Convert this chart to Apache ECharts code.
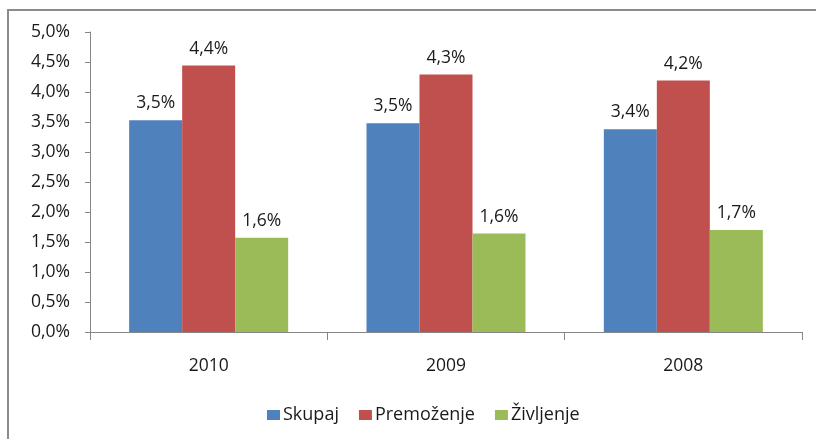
<!DOCTYPE html>
<html>
<head>
<meta charset="utf-8">
<script src="https://cdn.jsdelivr.net/npm/echarts@6/dist/echarts.min.js"></script>
<style>
  html, body { margin: 0; padding: 0; background: #fff; }
  #main { width: 816px; height: 439px; }
</style>
</head>
<body>
<div id="main"></div>
<script>
var years = ['2010', '2009', '2008'];
var skupaj = [3.53, 3.48, 3.38];
var premozenje = [4.44, 4.29, 4.19];
var zivljenje = [1.57, 1.64, 1.70];

var seriesNames = ['Skupaj', 'Premoženje', 'Življenje'];
var seriesColors = ['#4F81BD', '#C0504D', '#9BBB59'];

var myChart = echarts.init(document.getElementById('main'));

function pct(v, digits) {
    return v.toFixed(digits).replace('.', ',') + '%';
}

function makeSeries(name, data, color) {
    return {
        name: name,
        type: 'bar',
        data: data,
        barGap: '0%',
        barCategoryGap: '33%',
        itemStyle: { color: color },
        label: {
            show: true,
            position: 'top',
            distance: 8,
            color: '#1a1a1a',
            fontSize: 17.5,
            fontFamily: 'Open Sans',
            formatter: function(p) { return pct(p.value, 1); }
        }
    };
}

var option = {
    animation: false,
    textStyle: { fontFamily: 'Open Sans' },
    graphic: [{
        type: 'rect',
        shape: { x: 8, y: 10, width: 900, height: 500 },
        style: { fill: 'none', stroke: '#8c8c8c', lineWidth: 2 },
        silent: true
    }],
    grid: {
        left: 90,
        right: 14,
        top: 32,
        bottom: 107
    },
    legend: {
        bottom: 10,
        left: 262,
        itemWidth: 13,
        itemHeight: 10,
        itemGap: 20,
        icon: 'rect',
        textStyle: { fontSize: 18, color: '#1a1a1a', fontFamily: 'Open Sans', padding: [0, 0, 0, -2] },
        data: seriesNames
    },
    xAxis: {
        type: 'category',
        data: years,
        axisLine: { lineStyle: { color: '#868686', width: 1 } },
        axisTick: { show: true, length: 8, inside: false, lineStyle: { color: '#868686' } },
        axisLabel: { fontSize: 17.5, color: '#1a1a1a', margin: 25 }
    },
    yAxis: {
        type: 'value',
        min: 0,
        max: 5,
        interval: 0.5,
        splitLine: { show: false },
        axisLine: { show: true, lineStyle: { color: '#868686', width: 1 } },
        axisTick: { show: true, length: 5, lineStyle: { color: '#868686' } },
        axisLabel: {
            fontSize: 17.5,
            color: '#1a1a1a',
            margin: 20,
            formatter: function(v) { return pct(v, 1); }
        }
    },
    series: [
        makeSeries(seriesNames[0], skupaj, seriesColors[0]),
        makeSeries(seriesNames[1], premozenje, seriesColors[1]),
        makeSeries(seriesNames[2], zivljenje, seriesColors[2])
    ]
};

myChart.setOption(option);
</script>
</body>
</html>
